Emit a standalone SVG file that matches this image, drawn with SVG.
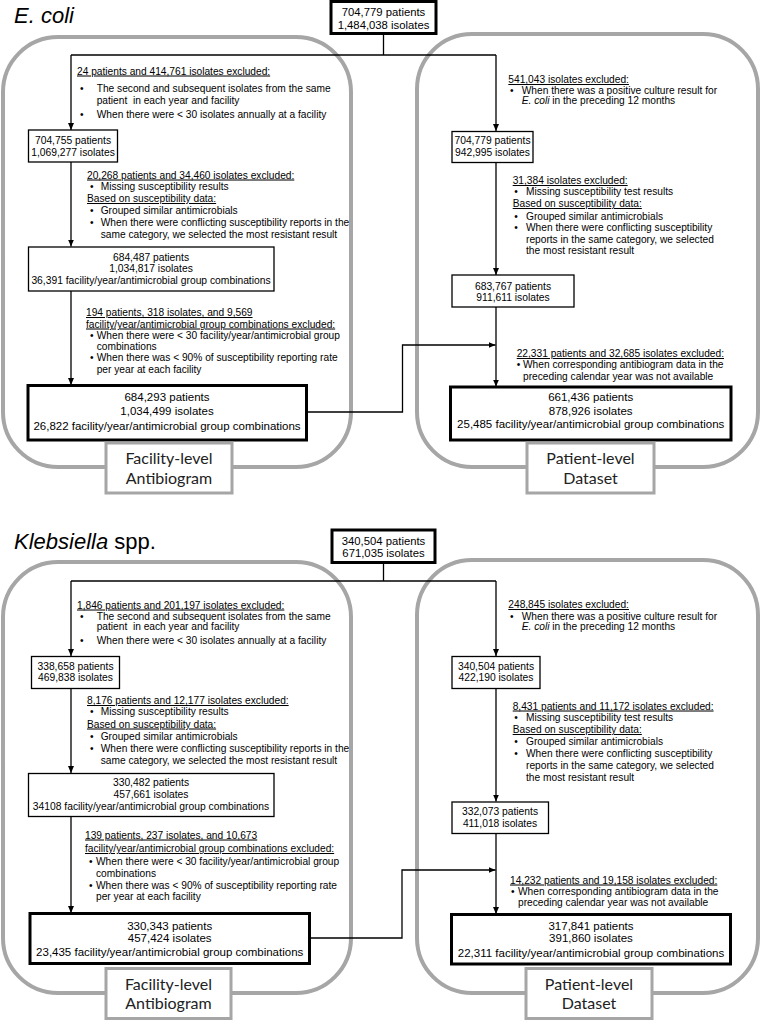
<svg xmlns="http://www.w3.org/2000/svg" width="761" height="1020" viewBox="0 0 761 1020">
<defs>
<style>
.g{fill:none;stroke:#a6a6a6;stroke-width:4}
.lb{fill:#fff;stroke:#a6a6a6;stroke-width:3}
.bx{fill:#fff;stroke:#000;stroke-width:1.3}
.bk{fill:#fff;stroke:#000;stroke-width:3}
.c{fill:none;stroke:#000;stroke-width:1.3}
text{font-family:"Liberation Sans",Arial,sans-serif;fill:#000}
.t{font-size:10.3px;text-anchor:middle}
.tt{font-size:11.3px;text-anchor:middle}
.tk{font-size:11.5px;text-anchor:middle}
.e{font-size:10.2px}
.u{text-decoration:underline}
.lab{font-family:Lato,"Open Sans",sans-serif;font-size:16px;text-anchor:middle;fill:#222}
.ttl{font-size:22px}
</style>
<marker id="ah" markerWidth="7" markerHeight="6" refX="7" refY="3" orient="auto" markerUnits="userSpaceOnUse">
<path d="M0,0 L7,3 L0,6 z" fill="#000"/>
</marker>
</defs>
<rect width="761" height="1020" fill="#fff"/>

<!-- ================= E. coli ================= -->
<text class="ttl" x="14" y="23" font-style="italic">E. coli</text>
<g id="ec-containers">
<rect class="g" x="3" y="37" width="348" height="430" rx="55"/>
<rect class="g" x="417" y="34" width="341" height="433" rx="55"/>
</g>
<g id="ec-connectors">
<polyline class="c" points="383.5,33 383.5,55"/>
<polyline class="c" points="71,55 496,55"/>
<polyline class="c" points="71,55 71,130" marker-end="url(#ah)"/>
<polyline class="c" points="496,55 496,131" marker-end="url(#ah)"/>
<polyline class="c" points="71,162 71,246.5" marker-end="url(#ah)"/>
<polyline class="c" points="71,291 71,385" marker-end="url(#ah)"/>
<polyline class="c" points="496,162.5 496,275" marker-end="url(#ah)"/>
<polyline class="c" points="496,307 496,386.5" marker-end="url(#ah)"/>
<polyline class="c" points="307,412 402.5,412 402.5,345 495.5,345" marker-end="url(#ah)"/>
</g>
<g id="ec-top">
<rect class="bk" x="331" y="1.5" width="105" height="32"/>
<text class="tt" x="383.5" y="16">704,779 patients</text>
<text class="tt" x="383.5" y="28.5">1,484,038 isolates</text>
</g>
<g id="ec-ex1">
<text class="e u" x="77" y="74.5">24 patients and 414,761 isolates excluded:</text>
<text class="e" x="80" y="92">•</text><text class="e" x="96.7" y="92">The second and subsequent isolates from the same</text>
<text class="e" x="96.7" y="103.5" xml:space="preserve">patient  in each year and facility</text>
<text class="e" x="80" y="118">•</text><text class="e" x="96.7" y="118">When there were &lt; 30 isolates annually at a facility</text>
</g>
<g id="ec-b1">
<rect class="bx" x="28.5" y="130" width="89" height="32"/>
<text class="t" x="73" y="144">704,755 patients</text>
<text class="t" x="73" y="156">1,069,277 isolates</text>
</g>
<g id="ec-ex2">
<text class="e u" x="87" y="178.5">20,268 patients and 34,460 isolates excluded:</text>
<text class="e" x="90" y="189.5">•</text><text class="e" x="100.7" y="189.5">Missing susceptibility results</text>
<text class="e u" x="87" y="202">Based on susceptibility data:</text>
<text class="e" x="90" y="214">•</text><text class="e" x="100.7" y="214">Grouped similar antimicrobials</text>
<text class="e" x="90" y="226">•</text><text class="e" x="100.7" y="226">When there were conflicting susceptibility reports in the</text>
<text class="e" x="100.7" y="238">same category, we selected the most resistant result</text>
</g>
<g id="ec-b2">
<rect class="bx" x="28.5" y="247" width="245.5" height="44"/>
<text class="t" x="151" y="260.5">684,487 patients</text>
<text class="t" x="151" y="272">1,034,817 isolates</text>
<text class="t" x="151" y="283.5">36,391 facility/year/antimicrobial group combinations</text>
</g>
<g id="ec-ex3">
<text class="e u" x="86" y="316">194 patients, 318 isolates, and 9,569</text>
<text class="e u" x="86" y="327.5">facility/year/antimicrobial group combinations excluded:</text>
<text class="e" x="90" y="338.5">•</text><text class="e" x="96.7" y="338.5">When there were &lt; 30 facility/year/antimicrobial group</text>
<text class="e" x="96.7" y="350">combinations</text>
<text class="e" x="90" y="361">•</text><text class="e" x="96.7" y="361">When there was &lt; 90% of susceptibility reporting rate</text>
<text class="e" x="96.7" y="372.5">per year at each facility</text>
</g>
<g id="ec-final-left">
<rect class="bk" x="28" y="385.5" width="278.5" height="54.5"/>
<text class="tk" x="167" y="401">684,293 patients</text>
<text class="tk" x="167" y="415">1,034,499 isolates</text>
<text class="tk" x="167" y="430">26,822 facility/year/antimicrobial group combinations</text>
</g>
<g id="ec-rex1">
<text class="e u" x="508.3" y="83">541,043 isolates excluded:</text>
<text class="e" x="510" y="93.5">•</text><text class="e" x="521.7" y="93.5">When there was a positive culture result for</text>
<text class="e" x="521.7" y="104"><tspan font-style="italic">E. coli</tspan> in the preceding 12 months</text>
</g>
<g id="ec-rb1">
<rect class="bx" x="452" y="131.5" width="81" height="31"/>
<text class="t" x="492.5" y="144">704,779 patients</text>
<text class="t" x="492.5" y="156">942,995 isolates</text>
</g>
<g id="ec-rex2">
<text class="e u" x="512.7" y="184">31,384 isolates excluded:</text>
<text class="e" x="514.3" y="195">•</text><text class="e" x="526" y="195">Missing susceptibility test results</text>
<text class="e u" x="512.7" y="207">Based on susceptibility data:</text>
<text class="e" x="514.3" y="219.5">•</text><text class="e" x="526" y="219.5">Grouped similar antimicrobials</text>
<text class="e" x="514.3" y="231">•</text><text class="e" x="526" y="231">When there were conflicting susceptibility</text>
<text class="e" x="526" y="242.5">reports in the same category, we selected</text>
<text class="e" x="526" y="254">the most resistant result</text>
</g>
<g id="ec-rb2">
<rect class="bx" x="452" y="275" width="122" height="32"/>
<text class="t" x="513" y="289.5">683,767 patients</text>
<text class="t" x="513" y="300.5">911,611 isolates</text>
</g>
<g id="ec-rex3">
<text class="e u" x="516.7" y="357">22,331 patients and 32,685 isolates excluded:</text>
<text class="e" x="516.7" y="368">•</text><text class="e" x="523" y="368">When corresponding antibiogram data in the</text>
<text class="e" x="523" y="379.5">preceding calendar year was not available</text>
</g>
<g id="ec-final-right">
<rect class="bk" x="450.5" y="387" width="280.5" height="53"/>
<text class="tk" x="590.7" y="401">661,436 patients</text>
<text class="tk" x="590.7" y="414.5">878,926 isolates</text>
<text class="tk" x="590.7" y="428">25,485 facility/year/antimicrobial group combinations</text>
</g>
<g id="ec-label-left">
<rect class="lb" x="106" y="443" width="126" height="50"/>
<text class="lab" x="169" y="463.5">Facility-level</text>
<text class="lab" x="169" y="483.5">Antibiogram</text>
</g>
<g id="ec-label-right">
<rect class="lb" x="527" y="443" width="127" height="50"/>
<text class="lab" x="590.5" y="463.5">Patient-level</text>
<text class="lab" x="590.5" y="483.5">Dataset</text>
</g>

<!-- ================= Klebsiella ================= -->
<text class="ttl" x="14" y="549"><tspan font-style="italic">Klebsiella</tspan> spp.</text>
<g id="kl-containers">
<rect class="g" x="3" y="562" width="348" height="431" rx="55"/>
<rect class="g" x="417" y="560" width="341" height="433" rx="55"/>
</g>
<g id="kl-connectors">
<polyline class="c" points="383.5,562.5 383.5,581"/>
<polyline class="c" points="71,581 496,581"/>
<polyline class="c" points="71,581 71,656" marker-end="url(#ah)"/>
<polyline class="c" points="496,581 496,656" marker-end="url(#ah)"/>
<polyline class="c" points="71,688.5 71,773" marker-end="url(#ah)"/>
<polyline class="c" points="71,816.5 71,913" marker-end="url(#ah)"/>
<polyline class="c" points="496,688.5 496,801.5" marker-end="url(#ah)"/>
<polyline class="c" points="496,833.5 496,914" marker-end="url(#ah)"/>
<polyline class="c" points="310,938 402,938 402,870 495.5,870" marker-end="url(#ah)"/>
</g>
<g id="kl-top">
<rect class="bk" x="332" y="530" width="103" height="32.5"/>
<text class="tt" x="383.5" y="544.5">340,504 patients</text>
<text class="tt" x="383.5" y="557">671,035 isolates</text>
</g>
<g id="kl-ex1">
<text class="e u" x="77" y="608.5">1,846 patients and 201,197 isolates excluded:</text>
<text class="e" x="80" y="619.5">•</text><text class="e" x="96.7" y="619.5">The second and subsequent isolates from the same</text>
<text class="e" x="96.7" y="630" xml:space="preserve">patient  in each year and facility</text>
<text class="e" x="80" y="643.5">•</text><text class="e" x="96.7" y="643.5">When there were &lt; 30 isolates annually at a facility</text>
</g>
<g id="kl-b1">
<rect class="bx" x="31.5" y="656.5" width="88" height="32"/>
<text class="t" x="75.5" y="669.5">338,658 patients</text>
<text class="t" x="75.5" y="681">469,838 isolates</text>
</g>
<g id="kl-ex2">
<text class="e u" x="87" y="704">8,176 patients and 12,177 isolates excluded:</text>
<text class="e" x="90" y="715">•</text><text class="e" x="100.7" y="715">Missing susceptibility results</text>
<text class="e u" x="87" y="727.5">Based on susceptibility data:</text>
<text class="e" x="90" y="740">•</text><text class="e" x="100.7" y="740">Grouped similar antimicrobials</text>
<text class="e" x="90" y="751.5">•</text><text class="e" x="100.7" y="751.5">When there were conflicting susceptibility reports in the</text>
<text class="e" x="100.7" y="763.5">same category, we selected the most resistant result</text>
</g>
<g id="kl-b2">
<rect class="bx" x="28.5" y="773.5" width="245.5" height="43"/>
<text class="t" x="151" y="786">330,482 patients</text>
<text class="t" x="151" y="798">457,661 isolates</text>
<text class="t" x="151" y="809.5">34108 facility/year/antimicrobial group combinations</text>
</g>
<g id="kl-ex3">
<text class="e u" x="85" y="838.5">139 patients, 237 isolates, and 10,673</text>
<text class="e u" x="85" y="852">facility/year/antimicrobial group combinations excluded:</text>
<text class="e" x="89" y="865">•</text><text class="e" x="96" y="865">When there were &lt; 30 facility/year/antimicrobial group</text>
<text class="e" x="96" y="877">combinations</text>
<text class="e" x="89" y="888.5">•</text><text class="e" x="96" y="888.5">When there was &lt; 90% of susceptibility reporting rate</text>
<text class="e" x="96" y="900">per year at each facility</text>
</g>
<g id="kl-final-left">
<rect class="bk" x="30" y="913.5" width="279.5" height="50"/>
<text class="tk" x="169.7" y="929.5">330,343 patients</text>
<text class="tk" x="169.7" y="942">457,424 isolates</text>
<text class="tk" x="169.7" y="956">23,435 facility/year/antimicrobial group combinations</text>
</g>
<g id="kl-rex1">
<text class="e u" x="508.3" y="608">248,845 isolates excluded:</text>
<text class="e" x="510" y="619.5">•</text><text class="e" x="521.7" y="619.5">When there was a positive culture result for</text>
<text class="e" x="521.7" y="630"><tspan font-style="italic">E. coli</tspan> in the preceding 12 months</text>
</g>
<g id="kl-rb1">
<rect class="bx" x="452" y="656.5" width="88" height="32"/>
<text class="t" x="496" y="669.5">340,504 patients</text>
<text class="t" x="496" y="681">422,190 isolates</text>
</g>
<g id="kl-rex2">
<text class="e u" x="512.7" y="709.5">8,431 patients and 11,172 isolates excluded:</text>
<text class="e" x="514.3" y="721">•</text><text class="e" x="526" y="721">Missing susceptibility test results</text>
<text class="e u" x="512.7" y="733">Based on susceptibility data:</text>
<text class="e" x="514.3" y="744.5">•</text><text class="e" x="526" y="744.5">Grouped similar antimicrobials</text>
<text class="e" x="514.3" y="757">•</text><text class="e" x="526" y="757">When there were conflicting susceptibility</text>
<text class="e" x="526" y="769">reports in the same category, we selected</text>
<text class="e" x="526" y="780.5">the most resistant result</text>
</g>
<g id="kl-rb2">
<rect class="bx" x="452" y="802" width="96.5" height="31.5"/>
<text class="t" x="500" y="815">332,073 patients</text>
<text class="t" x="500" y="827">411,018 isolates</text>
</g>
<g id="kl-rex3">
<text class="e u" x="510" y="883.5">14,232 patients and 19,158 isolates excluded:</text>
<text class="e" x="511" y="894.5">•</text><text class="e" x="518" y="894.5">When corresponding antibiogram data in the</text>
<text class="e" x="518" y="906">preceding calendar year was not available</text>
</g>
<g id="kl-final-right">
<rect class="bk" x="451.5" y="914.5" width="279" height="49.5"/>
<text class="tk" x="591" y="929.5">317,841 patients</text>
<text class="tk" x="591" y="942">391,860 isolates</text>
<text class="tk" x="591" y="956.5">22,311 facility/year/antimicrobial group combinations</text>
</g>
<g id="kl-label-left">
<rect class="lb" x="106" y="968.5" width="125" height="50"/>
<text class="lab" x="168.5" y="990">Facility-level</text>
<text class="lab" x="168.5" y="1009">Antibiogram</text>
</g>
<g id="kl-label-right">
<rect class="lb" x="526" y="968.5" width="126" height="50"/>
<text class="lab" x="589" y="990">Patient-level</text>
<text class="lab" x="589" y="1009">Dataset</text>
</g>
</svg>
